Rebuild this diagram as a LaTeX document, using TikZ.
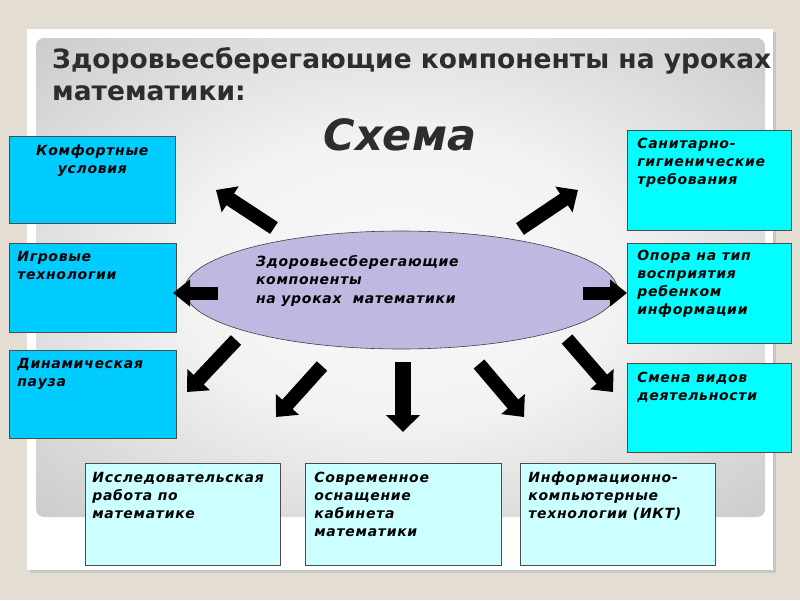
\documentclass[tikz,border=0pt]{standalone}
\usepackage{fontspec}
\setmainfont{DejaVu Sans}
\newfontfamily\boxfont[LetterSpace=5]{DejaVu Sans}
\usepackage{tikz}
\usetikzlibrary{arrows.meta,shapes.geometric,positioning}
\definecolor{beige}{RGB}{227,221,210}
\definecolor{deepcyan}{RGB}{0,204,255}
\definecolor{aqua}{RGB}{0,255,255}
\definecolor{palecyan}{RGB}{204,255,255}
\definecolor{lavender}{RGB}{191,184,224}
\definecolor{titlegray}{RGB}{45,45,45}
\pgfdeclareradialshading{panel}{\pgfpoint{0bp}{0bp}}{color(0bp)=(gray!5); color(15bp)=(gray!10); color(50bp)=(gray!62); color(71bp)=(gray!78)}
% box text: width, height, first baseline, text
\newcommand{\cell}[4]{\parbox[t][#2][t]{#1}{\rule{0pt}{#3}#4}}

\begin{document}
\begin{tikzpicture}[x=1pt,y=-1pt,
  comp/.style={draw=black!70,line width=0.7pt,anchor=north west,inner ysep=0pt,
               font=\boxfont\fontsize{14}{18}\selectfont\bfseries\itshape},
  push/.style={line width=14pt,-{Triangle[width=30pt,length=17pt]}},
  heading/.style={anchor=base west,inner sep=0pt,text=titlegray,font=\fontsize{26.5}{30}\selectfont\bfseries}
]
  % slide background
  \fill[beige] (0,0) rectangle (800,600);
  \fill[black!22] (30,32) rectangle (776,573);
  \fill[white] (27,29) rectangle (773,570);
  \shade[shading=panel,rounded corners=8pt] (36,38) rectangle (765,517);
  \useasboundingbox (0,0) rectangle (800,600);

  \node[heading] (title)  at (52,68)  {Здоровьесберегающие компоненты на уроках};
  \node[heading] (title2) at (52,100) {математики:};
  \node[anchor=base,text=titlegray,font=\fontsize{43}{50}\selectfont\bfseries\itshape]
    (scheme) at (400,150) {Схема};

  % left column
  \node[comp,fill=deepcyan,inner xsep=8pt] (comfort) at (9,136)
    {\cell{150pt}{87pt}{19pt}{\centering Комфортные\\условия}};
  \node[comp,fill=deepcyan,inner xsep=8pt] (games) at (9,243)
    {\cell{151pt}{89pt}{18pt}{\raggedright Игровые\\технологии}};
  \node[comp,fill=deepcyan,inner xsep=8pt] (pause) at (9,350)
    {\cell{151pt}{88pt}{18pt}{\raggedright Динамическая\\пауза}};

  % right column
  \node[comp,fill=aqua,inner xsep=10pt] (hygiene) at (627,130)
    {\cell{144pt}{100pt}{18pt}{\raggedright Санитарно-\\гигиенические\\требования}};
  \node[comp,fill=aqua,inner xsep=10pt] (percept) at (627,243)
    {\cell{144pt}{100pt}{17pt}{\raggedright Опора на тип\\восприятия\\ребенком\\информации}};
  \node[comp,fill=aqua,inner xsep=10pt] (switch) at (627,363)
    {\cell{144pt}{89pt}{19pt}{\raggedright Смена видов\\деятельности}};

  % bottom row
  \node[comp,fill=palecyan,inner xsep=7pt] (research) at (85,463)
    {\cell{181pt}{102pt}{19pt}{\raggedright Исследовательская\\работа по\\математике}};
  \node[comp,fill=palecyan,inner xsep=9pt] (equip) at (305,463)
    {\cell{178pt}{102pt}{19pt}{\raggedright Современное\\оснащение\\кабинета\\математики}};
  \node[comp,fill=palecyan,inner xsep=8pt] (ict) at (520,463)
    {\cell{179pt}{102pt}{19pt}{\raggedright Информационно-\\компьютерные\\технологии (ИКТ)}};

  % centre
  \node[ellipse,draw=black!75,line width=0.6pt,fill=lavender,minimum width=433pt,
        minimum height=118pt,inner sep=0pt,font=\boxfont\fontsize{14}{18.5}\selectfont\bfseries\itshape]
    (core) at (401,290)
    {\parbox[c][80pt][t]{290pt}{\rule{0pt}{16pt}Здоровьесберегающие\\компоненты\\на уроках\ \ математики}};

  % arrow ends
  \coordinate (ul0) at (274,228); \coordinate (ul1) at (216,190);
  \coordinate (ur0) at (520,229); \coordinate (ur1) at (578,190);
  \coordinate (l0)  at (218,293); \coordinate (l1)  at (173,293);
  \coordinate (r0)  at (583,293); \coordinate (r1)  at (627,293);
  \coordinate (dl0) at (236,340); \coordinate (dl1) at (187,392);
  \coordinate (dm0) at (322,366); \coordinate (dm1) at (276,417);
  \coordinate (d0)  at (403,362); \coordinate (d1)  at (403,432);
  \coordinate (dn0) at (479,364); \coordinate (dn1) at (524,417);
  \coordinate (dr0) at (567,339); \coordinate (dr1) at (613,392);

  \draw[push] (ul0)--(ul1); \draw[push] (ur0)--(ur1);
  \draw[push,line width=13pt,-{Triangle[width=26pt,length=17pt]}] (l0)--(l1);
  \draw[push,line width=13pt,-{Triangle[width=26pt,length=17pt]}] (r0)--(r1);
  \draw[push] (dl0)--(dl1); \draw[push] (dm0)--(dm1);
  \draw[push,line width=16pt,-{Triangle[width=33pt,length=17pt]}] (d0)--(d1);
  \draw[push] (dn0)--(dn1); \draw[push] (dr0)--(dr1);
\end{tikzpicture}
\end{document}
